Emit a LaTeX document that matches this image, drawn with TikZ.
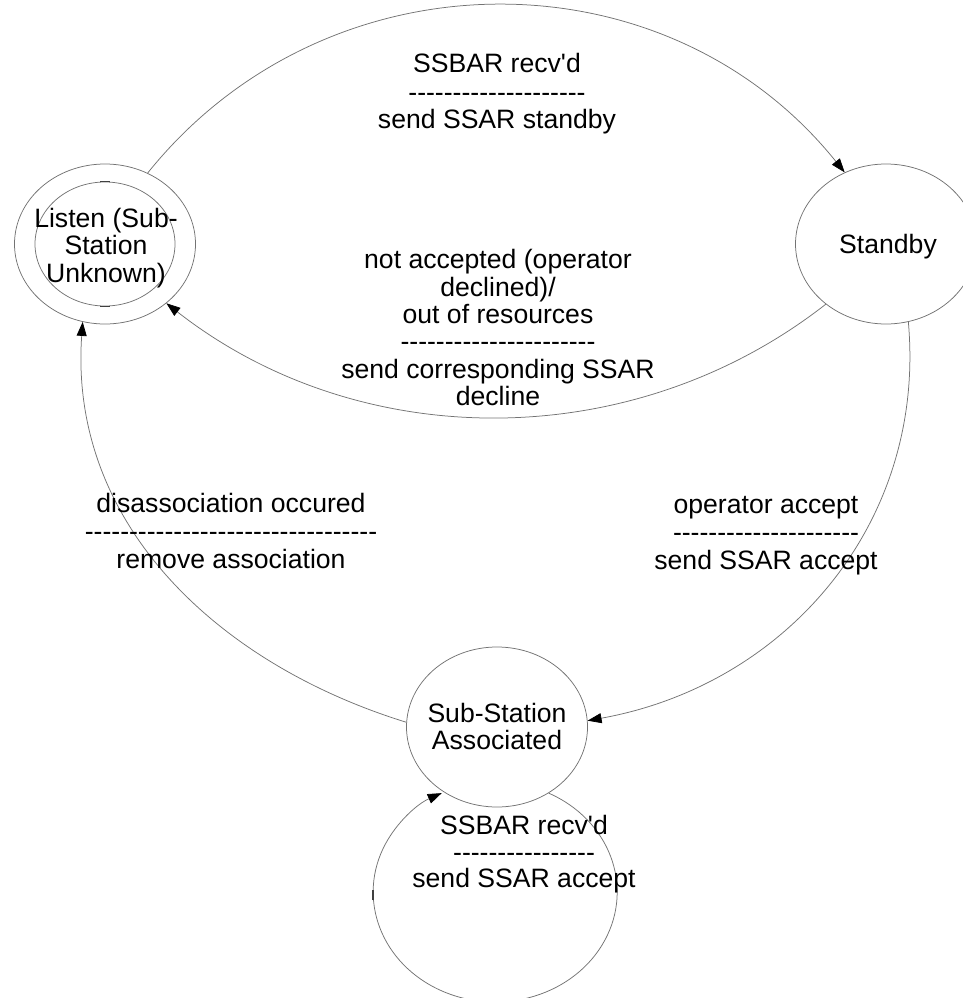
\documentclass[tikz,border=0pt]{standalone}
\usepackage{fontspec}
\setmainfont{Liberation Sans}[Ligatures=TeXOff]
\usetikzlibrary{shapes.geometric,arrows.meta}
\definecolor{linegray}{gray}{0.45}

\begin{document}
\begin{tikzpicture}[x=1pt,y=-1pt,
  state/.style={draw=linegray, line width=0.75pt, ellipse,
    minimum width=181pt, minimum height=160pt, inner sep=0pt},
  innerring/.style={draw=linegray, line width=0.75pt, ellipse,
    minimum width=140pt, minimum height=124pt, inner sep=0pt},
  txt/.style={anchor=base, inner sep=0pt, font=\fontsize{26.6}{27.5}\selectfont},
  edge/.style={draw=linegray, line width=0.75pt,
    -{Triangle[length=14pt,width=10pt,color=black]}},
  tickmark/.style={draw=black!75, line width=1.6pt}]
\useasboundingbox (0,0) rectangle (963,998);

% states
\node[state] (listen) at (105,244) {};
\node[innerring] (listenin) at (105,244) {};
\node[state] (standby) at (886,244) {};
\node[state] (sub) at (497,727) {};

% small marks on the inner ring
\draw[tickmark] ([xshift=-5pt]listenin.north) -- ([xshift=5pt]listenin.north);
\draw[tickmark] ([xshift=-5pt]listenin.south) -- ([xshift=5pt]listenin.south);

% state names
\node[txt] (listenA) at (106,227) {Listen (Sub-};
\node[txt] (listenB) at (106,254.5) {Station};
\node[txt] (listenC) at (106,282) {Unknown)};
\node[txt] (standbyA) at (888,253) {Standby};
\node[txt] (subA) at (497,722) {Sub-Station};
\node[txt] (subB) at (497,749) {Associated};

% transitions
\draw[edge] (listen.59) .. controls +(179,-223) and +(-179,-223) .. (standby.120);
\draw[edge] (standby.-135) .. controls +(-193,151) and +(193,151) .. (listen.-44);
\draw[edge] (standby.-74) .. controls +(18,200) and +(200,-36) .. (sub.4);
\draw[edge] (sub.177) .. controls +(-191,-59) and +(-14,200) .. (listen.-106);
\draw[edge] (sub.-52) arc[start angle=-64, end angle=244, x radius=122, y radius=110];
\coordinate (loopW) at (373,895);
\draw[tickmark, line width=1.2pt] ([yshift=-5pt]loopW) -- ([yshift=5pt]loopW);

% transition labels
\node[txt] (l1a) at (497,73) {SSBAR recv'd};
\node[txt] (l1b) at (497,101) {--------------------};
\node[txt] (l1c) at (497,128) {send SSAR standby};

\node[txt] (l2a) at (498,268) {not accepted (operator};
\node[txt] (l2b) at (498,296) {declined)/};
\node[txt] (l2c) at (498,323) {out of resources};
\node[txt] (l2d) at (498,350) {----------------------};
\node[txt] (l2e) at (498,378) {send corresponding SSAR};
\node[txt] (l2f) at (498,405) {decline};

\node[txt] (l3a) at (766,513) {operator accept};
\node[txt] (l3b) at (766,541) {---------------------};
\node[txt] (l3c) at (766,569) {send SSAR accept};

\node[txt] (l4a) at (231,512) {disassociation occured};
\node[txt] (l4b) at (231,540) {---------------------------------};
\node[txt] (l4c) at (231,568) {remove association};

\node[txt] (l5a) at (524,834) {SSBAR recv'd};
\node[txt] (l5b) at (524,861) {----------------};
\node[txt] (l5c) at (524,887) {send SSAR accept};
\end{tikzpicture}
\end{document}
